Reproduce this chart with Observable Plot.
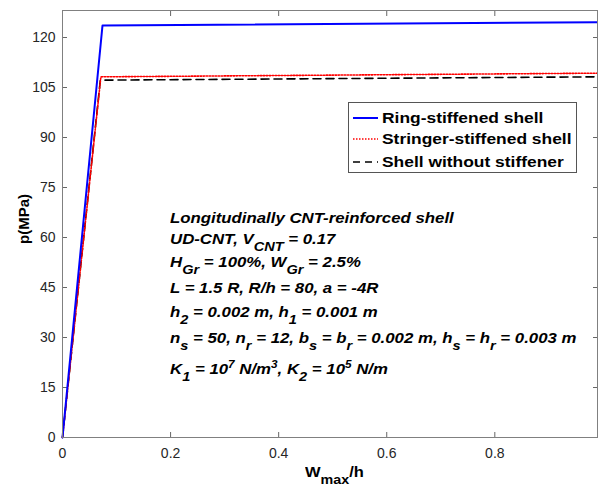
<!DOCTYPE html>
<html>
<head>
<meta charset="utf-8">
<script src="https://cdn.jsdelivr.net/npm/d3@7"></script>
<script src="https://cdn.jsdelivr.net/npm/@observablehq/plot@0.6"></script>
<style>
  body { margin: 0; background: #fff; }
  #wrap { position: relative; width: 598px; height: 488px; font-family: "Liberation Sans", Arial, sans-serif; overflow: hidden; }
  .ann { position: absolute; left: 170px; font: italic bold 15px "Liberation Sans", Arial, sans-serif; color: #000; white-space: nowrap; line-height: 15px; transform: scaleX(1.12); transform-origin: 0 0; }
  .ann sub, .lab sub { font-size: 13px; vertical-align: baseline; position: relative; top: 7px; line-height: 0; }
  .ann sup { font-size: 10.5px; vertical-align: baseline; position: relative; top: -6px; line-height: 0; }
  #legend { position: absolute; left: 348px; top: 102px; width: 229px; height: 71px; border: 1px solid #555; background: #fff; box-sizing: border-box; }
  .lrow { position: absolute; left: 0; height: 20px; width: 100%; }
  .lrow svg { position: absolute; left: 4px; }
  .lrow span { position: absolute; left: 33px; font: bold 15px "Liberation Sans", Arial, sans-serif; line-height: 1; color: #000; white-space: nowrap; transform: scaleX(1.16); transform-origin: 0 0; }
  .lab { position: absolute; font: bold 15px "Liberation Sans", Arial, sans-serif; line-height: 15px; color: #000; white-space: nowrap; }
</style>
</head>
<body>
<div id="wrap"></div>
<script>
// Data
const xRing = [0, 0.074, 0.99];
const pRing = [0, 123.6, 124.6];
const xStringer = [0, 0.071, 0.99];
const pStringer = [0, 108.2, 109.3];
const xPlain = [0, 0.070, 0.99];
const pPlain = [0, 107.2, 108.2];
const seriesNames = ["Ring-stiffened shell", "Stringer-stiffened shell", "Shell without stiffener"];
const xTicks = [0, 0.2, 0.4, 0.6, 0.8];
const yTicks = [0, 15, 30, 45, 60, 75, 90, 105, 120];
const annotationLines = [
  "Longitudinally CNT-reinforced shell",
  "UD-CNT, V<sub>CNT</sub> = 0.17",
  "H<sub>Gr</sub> = 100%, W<sub>Gr</sub> = 2.5%",
  "L = 1.5 R, R/h = 80, a = -4R",
  "h<sub>2</sub> = 0.002 m, h<sub>1</sub> = 0.001 m",
  "n<sub>s</sub> = 50, n<sub>r</sub> = 12, b<sub>s</sub> = b<sub>r</sub> = 0.002 m, h<sub>s</sub> = h<sub>r</sub> = 0.003 m",
  "K<sub>1</sub> = 10<sup>7</sup> N/m<sup>3</sup>, K<sub>2</sub> = 10<sup>5</sup> N/m"
];

const mk = (xs, ps) => xs.map((x, i) => ({x, p: ps[i]}));
const ring = mk(xRing, pRing);
const stringer = mk(xStringer, pStringer);
const plain = mk(xPlain, pPlain);

const tickColor = "#262626";
const chart = Plot.plot({
  width: 598,
  height: 488,
  marginLeft: 62,
  marginRight: 1,
  marginTop: 10,
  marginBottom: 51,
  style: {fontFamily: "Liberation Sans, Arial, sans-serif", color: tickColor, background: "#fff"},
  x: {domain: [0, 0.99]},
  y: {domain: [0, 128.1]},
  marks: [
    Plot.axisX({ticks: xTicks, tickSize: 0, tickPadding: 11, fontSize: 14, label: null, tickFormat: d => String(d)}),
    Plot.axisX({ticks: xTicks, tickSize: -5, text: null, label: null, stroke: "#666"}),
    Plot.axisX({anchor: "top", ticks: xTicks, tickSize: -5, text: null, label: null, stroke: "#666"}),
    Plot.axisY({ticks: yTicks, tickSize: 0, tickPadding: 7, fontSize: 14, label: null}),
    Plot.axisY({ticks: yTicks, tickSize: -5, text: null, label: null, stroke: "#666"}),
    Plot.axisY({anchor: "right", ticks: yTicks, tickSize: -5, text: null, label: null, stroke: "#666"}),
    Plot.line(plain, {x: "x", y: "p", stroke: "#000", strokeWidth: 1.6, strokeDasharray: "8,5"}),
    Plot.line(stringer, {x: "x", y: "p", stroke: "#ff0000", strokeWidth: 1.6, strokeDasharray: "1.5,1.5"}),
    Plot.line(ring, {x: "x", y: "p", stroke: "#0000ff", strokeWidth: 2}),
    Plot.frame({stroke: "#808080", strokeWidth: 1})
  ]
});

const wrap = document.getElementById("wrap");
wrap.appendChild(chart);

// annotation text (cap-centre positions)
const annCenters = [217, 238, 261, 287, 311, 337, 368];
annotationLines.forEach((t, i) => {
  const d = document.createElement("div");
  d.className = "ann";
  d.style.top = (annCenters[i] - 7.5) + "px";
  d.innerHTML = t;
  wrap.appendChild(d);
});

// legend
const legend = document.createElement("div");
legend.id = "legend";
const styles = [
  {stroke: "#0000ff", dash: null, w: 2},
  {stroke: "#ff0000", dash: "1.5,1.5", w: 1.6},
  {stroke: "#000", dash: "7,5", w: 1.6}
];
const rowCenters = [15, 36, 59];
seriesNames.forEach((name, i) => {
  const row = document.createElement("div");
  row.className = "lrow";
  row.style.top = (rowCenters[i] - 10) + "px";
  const s = styles[i];
  row.innerHTML = `<svg width="26" height="12" style="top:4px"><line x1="0" x2="25" y1="6" y2="6" stroke="${s.stroke}" stroke-width="${s.w}" ${s.dash ? `stroke-dasharray="${s.dash}"` : ""}/></svg><span style="top:1.5px">${name}</span>`;
  legend.appendChild(row);
});
wrap.appendChild(legend);

// axis labels
const xl = document.createElement("div");
xl.className = "lab";
xl.style.left = "305px";
xl.style.top = "464px";
xl.style.transform = "scaleX(1.1)";
xl.style.transformOrigin = "0 0";
xl.innerHTML = "W<sub>max</sub>/h";
wrap.appendChild(xl);

const yl = document.createElement("div");
yl.className = "lab";
yl.style.left = "23px";
yl.style.top = "219px";
yl.style.transform = "translate(-50%, -50%) rotate(-90deg)";
yl.textContent = "p(MPa)";
wrap.appendChild(yl);
</script>
</body>
</html>
